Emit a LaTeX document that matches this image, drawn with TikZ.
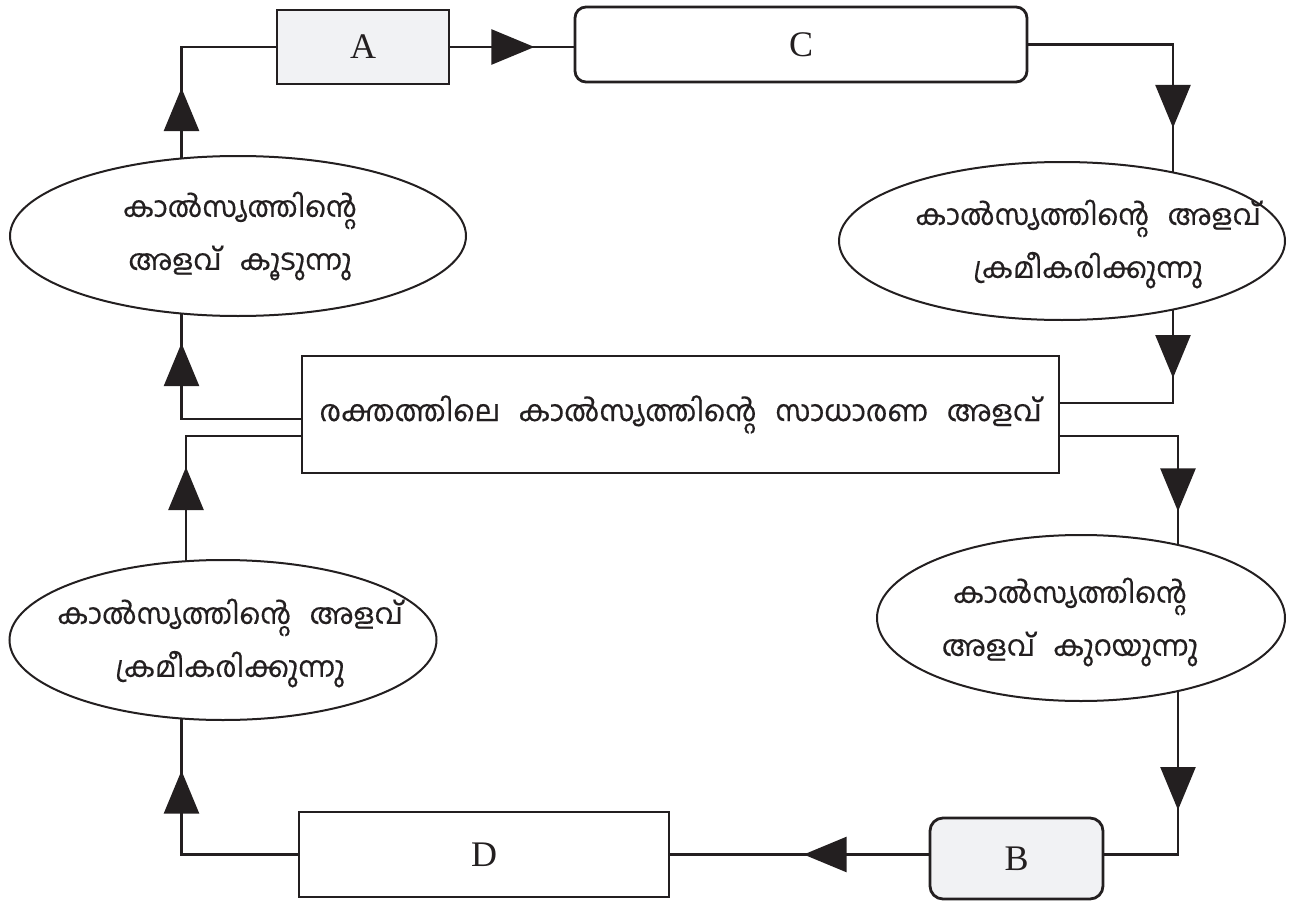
\documentclass[tikz,border=0pt]{standalone}
\usepackage{fontspec}
\setmainfont{Liberation Serif}
\newfontfamily\mal[Script=Malayalam,FakeBold=0.4]{Hind Kochi}
\usetikzlibrary{arrows.meta,decorations.markings,backgrounds,shapes.geometric}
\definecolor{ink}{HTML}{231F20}
\definecolor{boxgray}{HTML}{F1F2F4}
\tikzset{
  conn/.style={draw=ink,line width=2.5pt},
  tipat/.style={postaction={decorate},decoration={markings,
     mark=at position #1 with {\arrow{Triangle[length=43pt,width=35pt]}}}},
  letterbox/.style={draw=ink,line width=2.8pt,minimum width=#1,font=\fontsize{36}{40}\selectfont,text=ink},
  oval/.style={ellipse,draw=ink,fill=white,line width=2pt,inner sep=0pt},
  ovaltext/.style={align=center,inner sep=0pt,text=ink,font=\mal\fontsize{28.5}{53}\selectfont},
}
\begin{document}
\begin{tikzpicture}[x=1pt,y=-1pt]
\useasboundingbox (0,0) rectangle (1294,902);
% boxes
\node[letterbox=172pt,minimum height=74pt,fill=boxgray] (A) at (363,47) {A};
\node[letterbox=452pt,minimum height=75pt,fill=white,rounded corners=11pt] (C) at (801,44.5) {C};
\node[letterbox=757pt,minimum height=117pt,fill=white,font=\mal\fontsize{29}{34}\selectfont] (M) at (680.5,414.5) {രക്തത്തിലെ\hspace{0.4em} കാൽസ്യത്തിന്റെ\hspace{0.4em} സാധാരണ\hspace{0.4em} അളവ്};
\node[letterbox=173pt,minimum height=81pt,fill=boxgray,rounded corners=13pt] (B) at (1016.5,858.5) {B};
\node[letterbox=370pt,minimum height=85pt,fill=white] (D) at (484,854.5) {D};
% ellipses
\node[oval,minimum width=456pt,minimum height=160pt] (LU) at (238,236) {};
\node[ovaltext] (LUt) at (240,236) {കാൽസ്യത്തിന്റെ\\അളവ്\hspace{0.4em} കൂടുന്നു};
\node[oval,minimum width=446pt,minimum height=158pt] (RU) at (1062,241) {};
\node[ovaltext] (RUt) at (1088,244) {കാൽസ്യത്തിന്റെ\hspace{0.4em} അളവ്\\ക്രമീകരിക്കുന്നു};
\node[oval,minimum width=408pt,minimum height=166pt] (RL) at (1081,618) {};
\node[ovaltext] (RLt) at (1070,622) {കാൽസ്യത്തിന്റെ\\അളവ്\hspace{0.4em} കുറയുന്നു};
\node[oval,minimum width=427pt,minimum height=160pt] (LL) at (223,640) {};
\node[ovaltext] (LLt) at (230,643) {കാൽസ്യത്തിന്റെ\hspace{0.4em} അളവ്\\ക്രമീകരിക്കുന്നു};
% turning coordinates
\coordinate (xL1) at (181.5,0);
\coordinate (xL2) at (186,0);
\coordinate (xR1) at (1173,0);
\coordinate (xR2) at (1178,0);
\coordinate (yM1) at (0,419);
\coordinate (yM2) at (0,436);
\coordinate (yM3) at (0,403);
\begin{scope}[on background layer]
\draw[conn,tipat=195pt] (M.west |- yM1) -- (xL1 |- yM1) -- (xL1 |- LU.center);
\draw[conn,tipat=148pt] (xL1 |- LU.center) -- (xL1 |- A.west) -- (A.west);
\draw[conn,tipat=84pt] (A.east) -- (C.west |- A.east);
\draw[conn,tipat=228pt] (C.east) -- (xR1 |- C.east) -- (xR1 |- RU.center);
\draw[conn,tipat=137pt] (xR1 |- RU.center) -- (xR1 |- yM3) -- (M.east |- yM3);
\draw[conn,tipat=193pt] (M.east |- yM2) -- (xR2 |- yM2) -- (xR2 |- RL.center);
\draw[conn,tipat=192pt] (xR2 |- RL.center) -- (xR2 |- D.east) -- (B.east |- D.east);
\draw[conn,tipat=125pt] (B.west |- D.east) -- (D.east);
\draw[conn,tipat=200pt] (D.west) -- (xL1 |- D.west) -- (xL1 |- LL.center);
\draw[conn,tipat=173pt] (xL2 |- LL.center) -- (xL2 |- yM2) -- (M.west |- yM2);
\end{scope}
\end{tikzpicture}
\end{document}
